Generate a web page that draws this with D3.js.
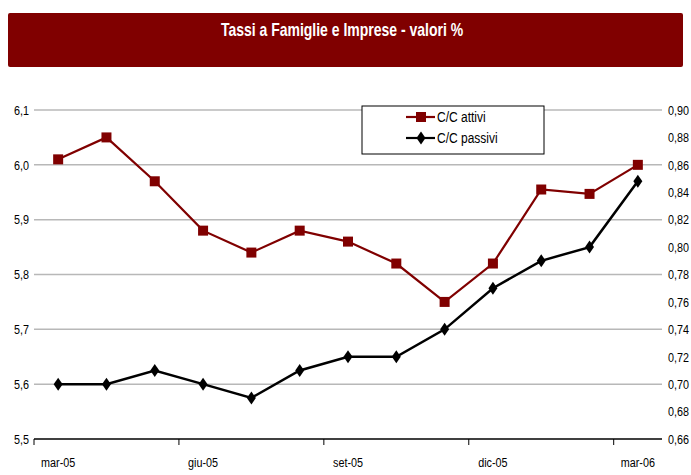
<!DOCTYPE html>
<html>
<head>
<meta charset="utf-8">
<script src="https://cdn.jsdelivr.net/npm/d3@7"></script>
<style>
  body { margin: 0; background: #fff; }
  text { font-family: "Liberation Sans", Arial, sans-serif; }
</style>
</head>
<body>
<svg id="chart"></svg>
<script>
// data
const months = ["mar-05", "apr-05", "mag-05", "giu-05", "lug-05", "ago-05", "set-05",
                "ott-05", "nov-05", "dic-05", "gen-06", "feb-06", "mar-06"];
const tickLabels = ["mar-05", "giu-05", "set-05", "dic-05", "mar-06"];
const attivi = [6.01, 6.05, 5.97, 5.88, 5.84, 5.88, 5.86, 5.82, 5.75, 5.82, 5.955, 5.947, 6.00];
const passivi = [0.70, 0.70, 0.71, 0.70, 0.69, 0.71, 0.72, 0.72, 0.74, 0.77, 0.79, 0.80, 0.848];
const leftTicks = [5.5, 5.6, 5.7, 5.8, 5.9, 6.0, 6.1];
const rightTicks = [0.66, 0.68, 0.70, 0.72, 0.74, 0.76, 0.78, 0.80, 0.82, 0.84, 0.86, 0.88, 0.90];

const W = 691, H = 475;
const margin = {top: 110, right: 29, bottom: 36, left: 34};
const width = W - margin.left - margin.right;
const height = H - margin.top - margin.bottom;

const svg = d3.select("#chart").attr("width", W).attr("height", H);

// title banner
svg.append("rect")
    .attr("x", 8).attr("y", 13).attr("width", 675).attr("height", 54)
    .attr("rx", 2)
    .attr("fill", "#800000");
svg.append("text")
    .attr("class", "title")
    .attr("x", 342).attr("y", 36)
    .attr("text-anchor", "middle")
    .attr("fill", "#fff")
    .attr("font-size", 17.5).attr("font-weight", "bold")
    .text("Tassi a Famiglie e Imprese - valori %");

const chart = svg.append("g").attr("transform", `translate(${margin.left},${margin.top})`);

const x = d3.scaleBand().domain(months).range([0, width]);
const yL = d3.scaleLinear().domain([5.5, 6.1]).range([height, 0]);
const yR = d3.scaleLinear().domain([0.66, 0.90]).range([height, 0]);

// gridlines
chart.selectAll(".grid")
    .data(leftTicks.slice(1))
    .join("line")
    .attr("class", "grid")
    .attr("x1", 0).attr("x2", width)
    .attr("y1", d => yL(d)).attr("y2", d => yL(d))
    .attr("stroke", "#b8b8b8").attr("stroke-width", 1.5);

// left axis labels
const leftAxis = chart.append("g")
    .call(d3.axisLeft(yL).tickValues(leftTicks).tickSize(0).tickPadding(5)
        .tickFormat(d => d3.format(".1f")(d).replace(".", ",")));
leftAxis.select(".domain").remove();
leftAxis.selectAll("text").attr("font-size", 13.5).attr("fill", "#000")
    .attr("font-family", "Liberation Sans, Arial, sans-serif");

// right axis labels
const rightAxis = chart.append("g")
    .attr("transform", `translate(${width},0)`)
    .call(d3.axisRight(yR).tickValues(rightTicks).tickSize(0).tickPadding(6)
        .tickFormat(d => d3.format(".2f")(d).replace(".", ",")));
rightAxis.select(".domain").remove();
rightAxis.selectAll("text").attr("font-size", 13.5).attr("fill", "#000")
    .attr("font-family", "Liberation Sans, Arial, sans-serif");

// bottom axis
chart.append("line")
    .attr("x1", 0).attr("x2", width)
    .attr("y1", height).attr("y2", height)
    .attr("stroke", "#000").attr("stroke-width", 1.5);

const tickPos = [0, 3, 6, 9, 12].map(i => x(months[i]));
chart.selectAll(".xtick")
    .data(tickPos)
    .join("line")
    .attr("class", "xtick")
    .attr("x1", d => d).attr("x2", d => d)
    .attr("y1", height).attr("y2", height + 6)
    .attr("stroke", "#000");

chart.selectAll(".xlabel")
    .data(tickLabels)
    .join("text")
    .attr("class", "xlabel")
    .attr("x", d => x(d) + x.bandwidth() / 2)
    .attr("y", height + 28)
    .attr("text-anchor", "middle")
    .attr("font-size", 13.5)
    .text(d => d);

const cx = (d, i) => x(months[i]) + x.bandwidth() / 2;

// C/C attivi
chart.append("path")
    .datum(attivi)
    .attr("fill", "none").attr("stroke", "#800000").attr("stroke-width", 2.2)
    .attr("d", d3.line().x(cx).y(d => yL(d)));
chart.selectAll(".sq")
    .data(attivi)
    .join("rect")
    .attr("class", "sq")
    .attr("x", (d, i) => cx(d, i) - 5).attr("y", d => yL(d) - 5)
    .attr("width", 10).attr("height", 10)
    .attr("fill", "#800000");

// C/C passivi
const diamond = "M0,-6.5L4.5,0L0,6.5L-4.5,0Z";
chart.append("path")
    .datum(passivi)
    .attr("fill", "none").attr("stroke", "#000").attr("stroke-width", 2.5)
    .attr("d", d3.line().x(cx).y(d => yR(d)));
chart.selectAll(".dm")
    .data(passivi)
    .join("path")
    .attr("class", "dm")
    .attr("transform", (d, i) => `translate(${cx(d, i)},${yR(d)})`)
    .attr("d", diamond)
    .attr("fill", "#000");

// legend
const lg = svg.append("g").attr("transform", "translate(362,106)");
lg.append("rect")
    .attr("width", 182).attr("height", 48)
    .attr("fill", "#fff").attr("stroke", "#000").attr("stroke-width", 1);
const items = [
  {name: "C/C attivi", color: "#800000", shape: "sq", y: 11},
  {name: "C/C passivi", color: "#000", shape: "dm", y: 32}
];
items.forEach(it => {
  lg.append("line")
      .attr("x1", 44).attr("x2", 73).attr("y1", it.y).attr("y2", it.y)
      .attr("stroke", it.color).attr("stroke-width", 2.2);
  if (it.shape === "sq") {
    lg.append("rect").attr("x", 54).attr("y", it.y - 5).attr("width", 10).attr("height", 10)
        .attr("fill", it.color);
  } else {
    lg.append("path").attr("transform", `translate(59,${it.y})`).attr("d", diamond)
        .attr("fill", it.color);
  }
  lg.append("text")
      .attr("x", 75).attr("y", it.y + 5)
      .attr("font-size", 15)
      .text(it.name);
});

// the original uses a narrow face; squeeze every label horizontally about its anchor
const squeeze = 0.8;
svg.selectAll("text").each(function() {
  const ax = +this.getAttribute("x") || 0;
  d3.select(this).attr("transform", `translate(${ax * (1 - squeeze)},0) scale(${squeeze},1)`);
});
</script>
</body>
</html>
